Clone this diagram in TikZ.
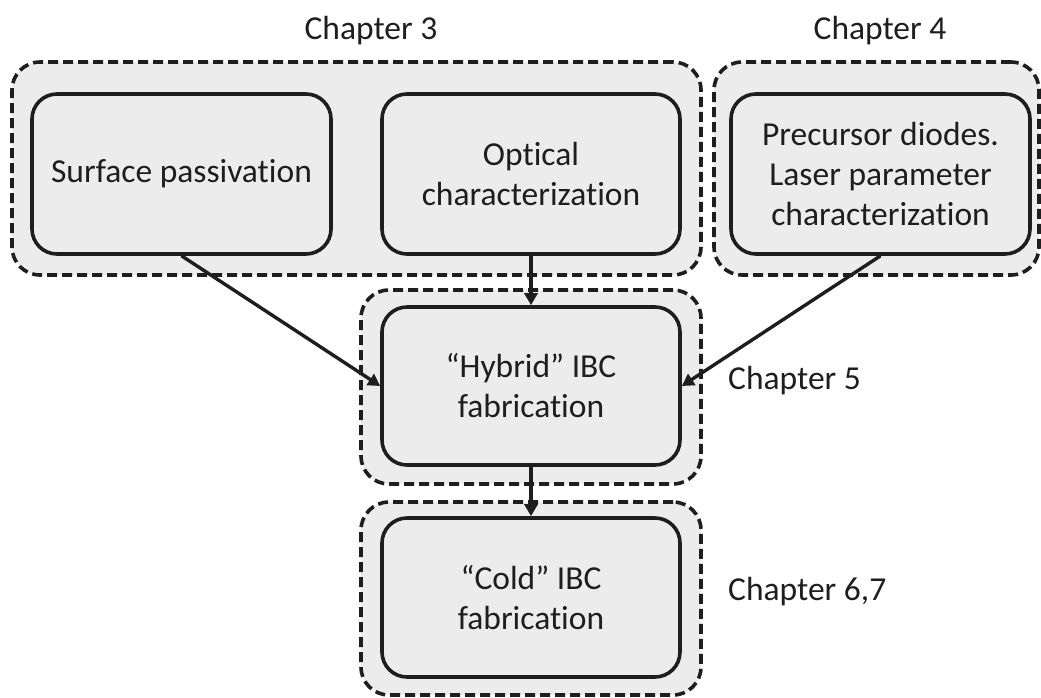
\documentclass[tikz,border=0pt]{standalone}
\usepackage{fontspec}
\setmainfont[Ligatures={NoCommon}]{Carlito}
\usetikzlibrary{arrows.meta}
\definecolor{boxfill}{RGB}{236,236,236}
\definecolor{ink}{RGB}{30,30,30}
\tikzset{
  group/.style={draw=ink, line width=3.6pt, dash pattern=on 10pt off 5pt, fill=boxfill, rounded corners=28pt, inner sep=0pt},
  task/.style={draw=ink, line width=3.6pt, fill=boxfill, rounded corners=25pt, inner sep=0pt, align=center, font=\fontsize{33.5}{40}\selectfont, text=ink},
  lbl/.style={font=\fontsize{33.5}{40}\selectfont, text=ink, inner sep=0pt},
  conn/.style={draw=ink, line width=3.4pt, -{Triangle[length=12pt,width=13pt]}},
}
\begin{document}
\begin{tikzpicture}[x=1pt,y=-1pt]
\useasboundingbox (0,0) rectangle (1041,697);
% groups
\node[group, minimum width=689pt, minimum height=213pt] (g3) at (356.5,168.5) {};
\node[group, minimum width=325pt, minimum height=213pt] (g4) at (876.5,168.5) {};
\node[group, minimum width=340pt, minimum height=194pt] (g5) at (531,387) {};
\node[group, minimum width=340pt, minimum height=193pt] (g6) at (531,598.5) {};
% tasks
\node[task, minimum width=299pt, minimum height=160pt] (sp) at (181.5,174) {Surface passivation};
\node[task, minimum width=298pt, minimum height=160pt] (oc) at (531,174) {Optical\\characterization};
\node[task, minimum width=299pt, minimum height=160pt] (pd) at (880.5,174) {Precursor diodes.\\Laser parameter\\characterization};
\node[task, minimum width=298pt, minimum height=158pt] (hy) at (531,386) {\char"201C Hybrid\char"201D{} IBC\\fabrication};
\node[task, minimum width=298pt, minimum height=159pt] (co) at (531,597.5) {\char"201C Cold\char"201D{} IBC\\fabrication};
% labels
\node[lbl, anchor=base] (l3) at (371,39) {Chapter 3};
\node[lbl, anchor=base] (l4) at (880,39) {Chapter 4};
\node[lbl, anchor=base west] (l5) at (728,389) {Chapter 5};
\node[lbl, anchor=base west] (l6) at (728,600) {Chapter 6,7};
% connectors
\draw[conn] (sp.south) -- (hy.west);
\draw[conn] (oc.south) -- (hy.north);
\draw[conn] (pd.south) -- (hy.east);
\draw[conn] (hy.south) -- (co.north);
\end{tikzpicture}
\end{document}
